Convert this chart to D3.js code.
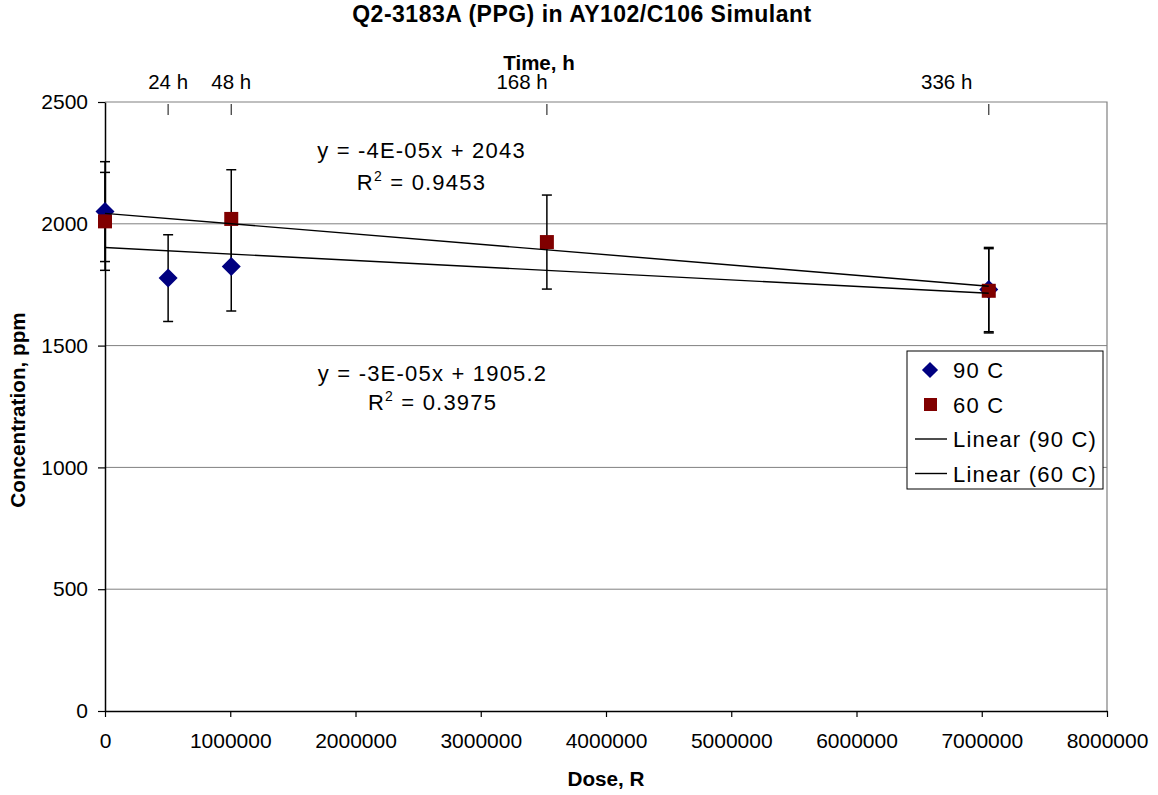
<!DOCTYPE html>
<html>
<head>
<meta charset="utf-8">
<script src="https://cdn.jsdelivr.net/npm/d3@7"></script>
<style>
  html, body { margin: 0; padding: 0; background: #ffffff; }
  svg { display: block; font-family: "Liberation Sans", Arial, sans-serif; }
</style>
</head>
<body>
<script>
// ---------------- data ----------------
const dose90 = [0, 504000, 1008000, 7056000];
const conc90 = [2050, 1777, 1825, 1730];
const err90  = [205, 178, 183, 173];

const dose60 = [0, 1008000, 3528000, 7056000];
const conc60 = [2010, 2020, 1925, 1725];
const err60  = [201, 202, 193, 173];

const xTicks = [0, 1000000, 2000000, 3000000, 4000000, 5000000, 6000000, 7000000, 8000000];
const yTicks = [0, 500, 1000, 1500, 2000, 2500];

const timeTickDose  = [504000, 1008000, 3528000, 7056000];
const timeLabels    = ["24 h", "48 h", "168 h", "336 h"];
const timeLabelDose = [504000, 1008000, 3330000, 6720000];

const legendNames = ["90 C", "60 C", "Linear (90 C)", "Linear (60 C)"];
const eq90 = "y = -3E-05x + 1905.2", r2_90 = "0.3975";
const eq60 = "y = -4E-05x + 2043",   r2_60 = "0.9453";
const eqPos90 = [2615000, 1355]; // label anchor (dose, conc)
const eqPos60 = [2527000, 2270];

const titleText = "Q2-3183A (PPG) in AY102/C106 Simulant";

// ---------------- layout ----------------
const W = 1158, H = 795;
const x = d3.scaleLinear().domain([0, 8000000]).range([105, 1107]);
const y = d3.scaleLinear().domain([0, 2500]).range([711, 102]);

const svg = d3.select("body").append("svg").attr("width", W).attr("height", H);

// least-squares fit
function fit(xs, ys) {
  const n = xs.length, mx = d3.mean(xs), my = d3.mean(ys);
  let sxy = 0, sxx = 0;
  for (let i = 0; i < n; i++) { sxy += (xs[i]-mx)*(ys[i]-my); sxx += (xs[i]-mx)**2; }
  const b = sxy / sxx; return { b, a: my - b*mx };
}

// gridlines
svg.append("g").selectAll("line").data(yTicks.filter(v => v > 0 && v < 2500)).join("line")
  .attr("x1", x(0)).attr("x2", x(8000000))
  .attr("y1", d => y(d)).attr("y2", d => y(d))
  .attr("stroke", "#808080").attr("stroke-width", 1);

// plot border (top & right)
svg.append("path")
  .attr("d", `M${x(0)},${y(2500)}H${x(8000000)}V${y(0)}`)
  .attr("fill", "none").attr("stroke", "#808080").attr("stroke-width", 1.2);

// left axis
const yAxis = d3.axisLeft(y).tickValues(yTicks).tickSize(7).tickSizeOuter(0).tickPadding(10)
  .tickFormat(d3.format("d"));
const gy = svg.append("g").attr("transform", `translate(${x(0)},0)`).call(yAxis);
gy.select(".domain").attr("stroke", "#000").attr("stroke-width", 1.5);
gy.selectAll(".tick line").attr("stroke", "#000").attr("stroke-width", 1.2);
gy.selectAll("text").attr("font-size", 21).attr("fill", "#000").attr("font-family", "Liberation Sans, Arial, sans-serif");

// bottom axis
const xAxis = d3.axisBottom(x).tickValues(xTicks).tickSize(6).tickSizeOuter(0).tickPadding(16)
  .tickFormat(d3.format("d"));
const gx = svg.append("g").attr("transform", `translate(0,${y(0)})`).call(xAxis);
gx.select(".domain").attr("stroke", "#000").attr("stroke-width", 1.5);
gx.selectAll(".tick line").attr("stroke", "#000").attr("stroke-width", 1.2);
gx.selectAll("text").attr("font-size", 21).attr("fill", "#000").attr("font-family", "Liberation Sans, Arial, sans-serif");

// top (time) ticks
svg.append("g").selectAll("line").data(timeTickDose).join("line")
  .attr("x1", d => x(d)).attr("x2", d => x(d))
  .attr("y1", y(2500) + 2).attr("y2", y(2500) + 13)
  .attr("stroke", "#333").attr("stroke-width", 1.2);
svg.append("g").selectAll("text").data(timeLabels).join("text")
  .attr("x", (d, i) => x(timeLabelDose[i])).attr("y", 89)
  .attr("text-anchor", "middle").attr("font-size", 20.5).attr("fill", "#000")
  .text(d => d);

// error bars
function errorBars(xs, ys, es) {
  const g = svg.append("g").attr("stroke", "#000").attr("stroke-width", 1.5);
  xs.forEach((d, i) => {
    const cx = x(d), y1 = y(ys[i] + es[i]), y2 = y(ys[i] - es[i]);
    g.append("line").attr("x1", cx).attr("x2", cx).attr("y1", y1).attr("y2", y2);
    g.append("line").attr("x1", cx - 5).attr("x2", cx + 5).attr("y1", y1).attr("y2", y1);
    g.append("line").attr("x1", cx - 5).attr("x2", cx + 5).attr("y1", y2).attr("y2", y2);
  });
}
errorBars(dose90, conc90, err90);
errorBars(dose60, conc60, err60);

// markers
const diamond = "M0,-9.5L9.5,0L0,9.5L-9.5,0Z";
svg.append("g").selectAll("path").data(dose90).join("path")
  .attr("d", diamond)
  .attr("transform", (d, i) => `translate(${x(d)},${y(conc90[i])})`)
  .attr("fill", "#000080");
svg.append("g").selectAll("rect").data(dose60).join("rect")
  .attr("x", d => x(d) - 7).attr("y", (d, i) => y(conc60[i]) - 7)
  .attr("width", 14).attr("height", 14).attr("fill", "#800000");

// trendlines
[[dose90, conc90], [dose60, conc60]].forEach(([xs, ys]) => {
  const f = fit(xs, ys);
  const x0 = d3.min(xs), x1 = d3.max(xs);
  svg.append("line")
    .attr("x1", x(x0)).attr("y1", y(f.a + f.b * x0))
    .attr("x2", x(x1)).attr("y2", y(f.a + f.b * x1))
    .attr("stroke", "#000").attr("stroke-width", 1.4);
});

// trendline labels
function eqLabel(pos, eq, r2, gap) {
  const cx = x(pos[0]), cy = y(pos[1]);
  const g = svg.append("g").attr("font-size", 22).attr("letter-spacing", "1.2px").attr("fill", "#000");
  g.append("text").attr("x", cx).attr("y", cy).attr("text-anchor", "middle").text(eq);
  const t = g.append("text").attr("x", cx).attr("y", cy + gap).attr("text-anchor", "middle");
  t.append("tspan").text("R");
  t.append("tspan").attr("font-size", 14).attr("dy", -9).text("2");
  t.append("tspan").attr("dy", 9).text(" = " + r2);
}
eqLabel(eqPos60, eq60, r2_60, 32);
eqLabel(eqPos90, eq90, r2_90, 29);

// legend
const lg = svg.append("g");
lg.append("rect").attr("x", 907).attr("y", 351).attr("width", 196).attr("height", 138)
  .attr("fill", "#fff").attr("stroke", "#000").attr("stroke-width", 1);
legendNames.forEach((name, i) => {
  const cy = 370 + i * 34.5;
  if (i === 0) lg.append("path").attr("d", diamond).attr("transform", `translate(930,${cy}) scale(0.85)`).attr("fill", "#000080");
  else if (i === 1) lg.append("rect").attr("x", 924).attr("y", cy - 6.5).attr("width", 13).attr("height", 13).attr("fill", "#800000");
  else lg.append("line").attr("x1", 915).attr("x2", 947).attr("y1", cy).attr("y2", cy).attr("stroke", "#000").attr("stroke-width", 1.4);
  lg.append("text").attr("x", 953).attr("y", cy + 8).attr("font-size", 22).attr("letter-spacing", "1.2px")
    .attr("fill", "#000").text(name);
});

// titles
svg.append("text").attr("x", 582).attr("y", 22).attr("text-anchor", "middle")
  .attr("font-size", 23).attr("font-weight", "bold").attr("letter-spacing", "0.5px").text(titleText);
svg.append("text").attr("x", 539).attr("y", 70).attr("text-anchor", "middle")
  .attr("font-size", 20.5).attr("font-weight", "bold").text("Time, h");
svg.append("text").attr("x", 606).attr("y", 786).attr("text-anchor", "middle")
  .attr("font-size", 20.7).attr("font-weight", "bold").text("Dose, R");
svg.append("text").attr("transform", "translate(25,410) rotate(-90)").attr("text-anchor", "middle")
  .attr("font-size", 20.7).attr("font-weight", "bold").text("Concentration, ppm");
</script>
</body>
</html>
